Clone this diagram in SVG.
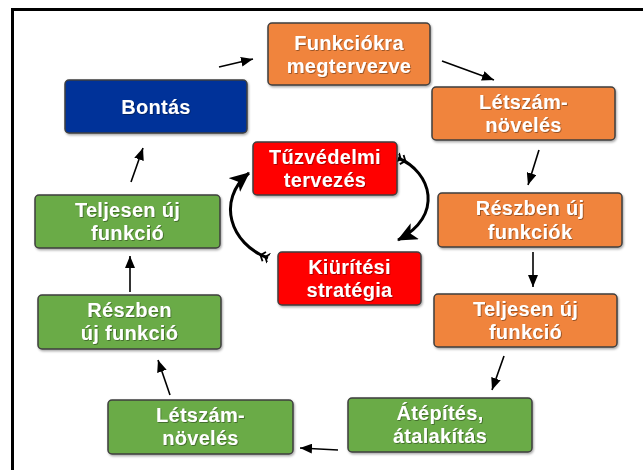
<svg xmlns="http://www.w3.org/2000/svg" width="643" height="470" viewBox="0 0 643 470">
<defs>
<style>
.box{stroke:#3f3f3f;stroke-width:1.5;filter:url(#sh)}
.or{fill:#F0843C}
.gr{fill:#6AAB47}
.bl{fill:#003399}
.rd{fill:#FF0000}
.t{font-family:"Liberation Sans",Arial,sans-serif;font-weight:bold;font-size:20px;letter-spacing:0.3px;fill:#fff;text-anchor:middle;filter:url(#tsh)}
.ar{fill:none;stroke:#000;stroke-width:1.6;marker-end:url(#ah)}
.cy{fill:none;stroke:#000;stroke-width:3;marker-end:url(#bh);marker-start:url(#tail)}
</style>
<filter id="sh" x="-10%" y="-10%" width="125%" height="130%">
<feDropShadow dx="1" dy="1.5" stdDeviation="1" flood-color="#000" flood-opacity="0.35"/>
</filter>
<filter id="tsh" x="-10%" y="-20%" width="120%" height="150%">
<feDropShadow dx="0.8" dy="0.8" stdDeviation="0.6" flood-color="#000" flood-opacity="0.45"/>
</filter>
<marker id="ah" viewBox="0 0 12 10" refX="12" refY="5" markerWidth="12" markerHeight="10" markerUnits="userSpaceOnUse" orient="auto">
<path d="M0,0 L12,5 L0,10 Z" fill="#000"/>
</marker>
<marker id="bh" viewBox="0 0 20 18" refX="19" refY="9" markerWidth="20" markerHeight="18" markerUnits="userSpaceOnUse" orient="auto">
<path d="M0,0 L20,9 L0,18 L5,9 Z" fill="#000"/>
</marker>
<marker id="tail" viewBox="0 0 12 12" refX="1" refY="6" markerWidth="12" markerHeight="12" markerUnits="userSpaceOnUse" orient="auto">
<path d="M0,1 L4,6 L0,11 M5,1 L9,6 L5,11" fill="none" stroke="#000" stroke-width="1.8"/>
</marker>
</defs>
<rect width="643" height="470" fill="#fff"/>
<path d="M12.5,470 V9.5 H643" fill="none" stroke="#000" stroke-width="3"/>

<g id="connectors">
<path class="ar" d="M219,67 L253,59"/>
<path class="ar" d="M442,61 L494,80"/>
<path class="ar" d="M539,150 L528,185"/>
<path class="ar" d="M533,252 L533,287"/>
<path class="ar" d="M504,356 L492,390"/>
<path class="ar" d="M338,450 L300,448"/>
<path class="ar" d="M170,395 L158,360"/>
<path class="ar" d="M130,292 L130,256"/>
<path class="ar" d="M131,182 L143,148"/>
<path class="cy" d="M398,158 C432,172 444,216 398,240"/>
<path class="cy" d="M268,258 C230,244 216,200 249,173"/>
</g>

<g id="n-funkciokra">
<rect class="box or" x="268" y="23" width="162" height="62" rx="4"/>
<text class="t" x="349" y="49.5">Funkciókra</text>
<text class="t" x="349" y="72.5">megtervezve</text>
</g>
<g id="n-bontas">
<rect class="box bl" x="65" y="80" width="182" height="53" rx="4"/>
<text class="t" x="156" y="113.5">Bontás</text>
</g>
<g id="n-letszam-o">
<rect class="box or" x="432" y="87" width="183" height="53" rx="4"/>
<text class="t" x="523.5" y="108.5">Létszám-</text>
<text class="t" x="523.5" y="132">növelés</text>
</g>
<g id="n-tuzvedelmi">
<rect class="box rd" x="253" y="142" width="144" height="53" rx="4"/>
<text class="t" x="325" y="163.5">Tűzvédelmi</text>
<text class="t" x="325" y="187">tervezés</text>
</g>
<g id="n-teljesen-g">
<rect class="box gr" x="35" y="195" width="185" height="53" rx="4"/>
<text class="t" x="127.5" y="216.5">Teljesen új</text>
<text class="t" x="127.5" y="240">funkció</text>
</g>
<g id="n-reszben-o">
<rect class="box or" x="438" y="193" width="184" height="54" rx="4"/>
<text class="t" x="530" y="215">Részben új</text>
<text class="t" x="530" y="238.5">funkciók</text>
</g>
<g id="n-kiuritesi">
<rect class="box rd" x="278" y="252" width="143" height="53" rx="4"/>
<text class="t" x="349.5" y="273.5">Kiürítési</text>
<text class="t" x="349.5" y="297">stratégia</text>
</g>
<g id="n-reszben-g">
<rect class="box gr" x="38" y="295" width="183" height="54" rx="4"/>
<text class="t" x="129.5" y="316.5">Részben</text>
<text class="t" x="129.5" y="340">új funkció</text>
</g>
<g id="n-teljesen-o">
<rect class="box or" x="434" y="294" width="183" height="53" rx="4"/>
<text class="t" x="525.5" y="315.5">Teljesen új</text>
<text class="t" x="525.5" y="339">funkció</text>
</g>
<g id="n-letszam-g">
<rect class="box gr" x="108" y="400" width="185" height="54" rx="4"/>
<text class="t" x="200.5" y="421.5">Létszám-</text>
<text class="t" x="200.5" y="445">növelés</text>
</g>
<g id="n-atepites">
<rect class="box gr" x="348" y="398" width="184" height="54" rx="4"/>
<text class="t" x="440" y="419.5">Átépítés,</text>
<text class="t" x="440" y="443">átalakítás</text>
</g>
</svg>
